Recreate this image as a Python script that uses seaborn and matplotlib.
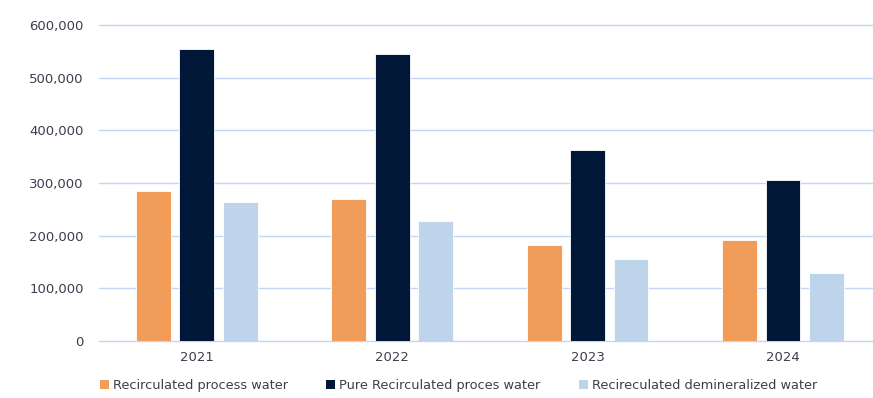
import matplotlib
matplotlib.use("Agg")
import matplotlib.pyplot as plt
import seaborn as sns
import pandas as pd
from matplotlib.patches import Patch
from matplotlib.ticker import FuncFormatter

years = ["2021", "2022", "2023", "2024"]
series = ["Recirculated process water", "Pure Recirculated proces water", "Recireculated demineralized water"]
recirculated_process = [285000, 269000, 182000, 192000]
pure_recirculated = [553500, 544000, 363000, 306000]
demineralized = [264000, 228000, 155000, 129000]
colors = ["#F19C59", "#001738", "#BDD4EA"]

rows = []
for name, vals in zip(series, [recirculated_process, pure_recirculated, demineralized]):
    for y, v in zip(years, vals):
        rows.append({"year": y, "series": name, "value": v})
df = pd.DataFrame(rows)

sns.set_style("white")
plt.rcParams["font.family"] = ["DejaVu Sans"]
text_color = "#3b3f4c"

fig = plt.figure(figsize=(8.73, 3.98), dpi=100)
ax = fig.add_axes([99/873, 1 - 341/398, 1 - 99/873, (341 - 25)/398])

sns.barplot(data=df, x="year", y="value", hue="series", hue_order=series,
            palette=colors, saturation=1, width=0.667, gap=0.2, edgecolor="white",
            linewidth=0.6, ax=ax, legend=False, zorder=3)

ax.set_ylim(0, 600000)
ax.set_xlim(-0.5, 3.46)
ax.set_yticks(range(0, 600001, 100000))
ax.yaxis.set_major_formatter(FuncFormatter(lambda v, p: f"{int(v):,}"))
ax.grid(axis="y", color="#c2d7f7", linewidth=1.0, zorder=0)
ax.set_axisbelow(True)
for s in ax.spines.values():
    s.set_visible(False)
ax.tick_params(axis="both", length=0, labelsize=9.5, colors=text_color)
ax.tick_params(axis="y", pad=11)
ax.tick_params(axis="x", pad=7)
ax.set_xlabel("")
ax.set_ylabel("")
for line in ax.get_ygridlines():
    line.set_clip_on(False)

handles = [Patch(facecolor=c, edgecolor="none", label=l) for c, l in zip(colors, series)]
fig.legend(handles=handles, loc="lower left", bbox_to_anchor=(88/873, -0.015), ncol=3,
           frameon=False, fontsize=9.3, handlelength=0.7, handleheight=0.7,
           handletextpad=0.3, columnspacing=3.0, labelcolor=text_color)

fig.savefig("out.png", dpi=100, facecolor="white")
